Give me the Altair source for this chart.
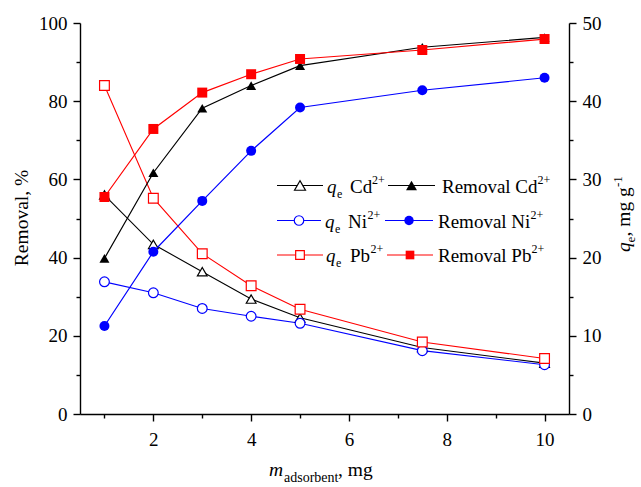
import altair as alt
import pandas as pd

# ---- data ----
m_ads = [1, 2, 3, 4, 5, 7.5, 10]
metals = ["Cd", "Ni", "Pb"]

removal_cd = [39.8, 61.7, 78.2, 84.0, 89.1, 93.8, 96.3]
removal_ni = [22.5, 41.5, 54.5, 67.3, 78.4, 82.8, 86.0]
removal_pb = [55.5, 72.9, 82.2, 86.9, 90.8, 93.1, 95.9]

qe_cd = [28.0, 21.7, 18.2, 14.7, 12.3, 8.5, 6.5]
qe_ni = [16.9, 15.5, 13.5, 12.5, 11.6, 8.1, 6.3]
qe_pb = [42.0, 27.6, 20.5, 16.4, 13.4, 9.2, 7.1]

colors = ["#000000", "#0000FF", "#FF0000"]
shapes = ["triangle-up", "circle", "square"]

removal = pd.DataFrame({
    "m": m_ads * 3,
    "metal": ["Cd"] * 7 + ["Ni"] * 7 + ["Pb"] * 7,
    "value": removal_cd + removal_ni + removal_pb,
})
qe = pd.DataFrame({
    "m": m_ads * 3,
    "metal": ["Cd"] * 7 + ["Ni"] * 7 + ["Pb"] * 7,
    "value": qe_cd + qe_ni + qe_pb,
})

FONT = "Liberation Serif"
W, H = 489, 391
OX, OY = 80, 23  # plot origin inside the page

cscale = alt.Scale(domain=metals, range=colors)
sscale = alt.Scale(domain=metals, range=shapes)

xaxis = alt.Axis(
    title=None, values=list(range(1, 11)),
    labelExpr="datum.value % 2 === 0 ? datum.label : ''",
    tickSize={"condition": {"test": "datum.value % 2 === 0", "value": 7}, "value": 4},
    labelPadding=9, grid=False,
)
xenc = alt.X("m:Q", scale=alt.Scale(domain=[0.5, 10.5], nice=False, zero=False), axis=xaxis)

yleft = alt.Y(
    "value:Q",
    scale=alt.Scale(domain=[0, 100], nice=False),
    axis=alt.Axis(
        orient="left", title=None, values=list(range(0, 101, 10)),
        labelExpr="datum.value % 20 === 0 ? datum.label : ''",
        tickSize={"condition": {"test": "datum.value % 20 === 0", "value": 7}, "value": 4},
        labelPadding=6, grid=False,
    ),
)
yright = alt.Y(
    "value:Q",
    scale=alt.Scale(domain=[0, 50], nice=False),
    axis=alt.Axis(
        orient="right", title=None, values=list(range(0, 51, 5)),
        labelExpr="datum.value % 10 === 0 ? datum.label : ''",
        tickSize={"condition": {"test": "datum.value % 10 === 0", "value": 7}, "value": 4},
        labelPadding=6, grid=False,
    ),
)

qe_line = alt.Chart(qe).mark_line(strokeWidth=1.1).encode(
    x=xenc, y=yright, color=alt.Color("metal:N", scale=cscale, legend=None))
qe_pts = alt.Chart(qe).mark_point(filled=True, fill="white", strokeWidth=1.2, size=95, opacity=1).encode(
    x=xenc, y=yright,
    stroke=alt.Stroke("metal:N", scale=cscale, legend=None),
    shape=alt.Shape("metal:N", scale=sscale, legend=None))
right = alt.layer(qe_line, qe_pts)

rem_line = alt.Chart(removal).mark_line(strokeWidth=1.2).encode(
    x=xenc, y=yleft, color=alt.Color("metal:N", scale=cscale, legend=None))
rem_pts = alt.Chart(removal).mark_point(filled=True, size=100, opacity=1).encode(
    x=xenc, y=yleft,
    color=alt.Color("metal:N", scale=cscale, legend=None),
    shape=alt.Shape("metal:N", scale=sscale, legend=None))
left = alt.layer(rem_line, rem_pts)


def txt(x, y, s, size=19, style="normal", align="left", angle=0, color="black"):
    kw = dict(font=FONT, fontSize=size, fontStyle=style, align=align, baseline="alphabetic", color=color)
    if angle:
        kw["angle"] = angle
    return alt.Chart().mark_text(**kw).encode(
        x=alt.value(x - OX), y=alt.value(y - OY), text=alt.value(s))


deco = []
# legend rows: y center, line1, marker1, q x, ion x, sup x, line2, marker2, removal x, sup x
rows = [
    (185.5, (277, 323), 300, 327, 350, 372, (388, 435), 411.5, 442, 537.5),
    (220.5, (277, 321), 299, 325, 348, 367.5, (385, 433), 409, 438, 530.5),
    (255.0, (277, 323), 300, 326, 350, 370.5, (387, 433), 410, 438, 531.5),
]
msize = {"Cd": 120, "Ni": 90, "Pb": 75}
for metal, col, shp, r in zip(metals, colors, shapes, rows):
    yc, l1, mk1, qx, ionx, supx, l2, mk2, rx, rsup = r
    base = yc + 7
    deco.append(alt.Chart().mark_rule(color=col, strokeWidth=1.2).encode(
        x=alt.value(l1[0] - OX), x2=alt.value(l1[1] - OX), y=alt.value(yc - OY)))
    deco.append(alt.Chart().mark_point(shape=shp, filled=True, fill="white", stroke=col,
                                       strokeWidth=1.2, size=msize[metal], opacity=1).encode(
        x=alt.value(mk1 - OX), y=alt.value(yc - OY)))
    deco.append(txt(qx, base, "q", style="italic"))
    deco.append(txt(qx + 10, base + 5, "e", size=12))
    deco.append(txt(ionx, base, metal))
    deco.append(txt(supx, base - 9, "2+", size=12))
    deco.append(alt.Chart().mark_rule(color=col, strokeWidth=1.2).encode(
        x=alt.value(l2[0] - OX), x2=alt.value(l2[1] - OX), y=alt.value(yc - OY)))
    deco.append(alt.Chart().mark_point(shape=shp, filled=True, color=col,
                                       size=msize[metal], opacity=1).encode(
        x=alt.value(mk2 - OX), y=alt.value(yc - OY)))
    deco.append(txt(rx, base, "Removal " + metal))
    deco.append(txt(rsup, base - 9, "2+", size=12))

# axis titles
deco.append(txt(28, 218, "Removal, %", size=19.5, align="center", angle=270))
# bottom title: m_adsorbent, mg
deco.append(txt(269, 476, "m", size=19.5, style="italic"))
deco.append(txt(284, 482, "adsorbent", size=14))
deco.append(txt(338, 476, ", mg", size=19.5))
# right title: q_e, mg g^-1 (rotated, reading upward)
bx = 630
deco.append(txt(bx, 252, "q", size=19.5, style="italic", angle=270))
deco.append(txt(bx + 5, 242.5, "e", size=13, angle=270))
deco.append(txt(bx, 236.5, ", mg g", size=19.5, angle=270))
deco.append(txt(bx - 8, 187, "-1", size=13, angle=270))

chart = alt.layer(right, left, *deco).resolve_scale(
    y="independent", color="shared", stroke="shared", shape="shared"
).properties(
    width=W, height=H,
    autosize=alt.AutoSizeParams(type="none"),
    padding={"left": OX, "top": OY, "right": 641 - OX - W, "bottom": 487 - OY - H},
    background="white",
).configure_axis(
    labelFont=FONT, labelFontSize=19, labelColor="black",
    domainColor="black", domainWidth=1.4, tickColor="black", tickWidth=1.4,
).configure_view(stroke=None)

chart.save("out.html", embed_options={"renderer": "svg", "actions": False})
